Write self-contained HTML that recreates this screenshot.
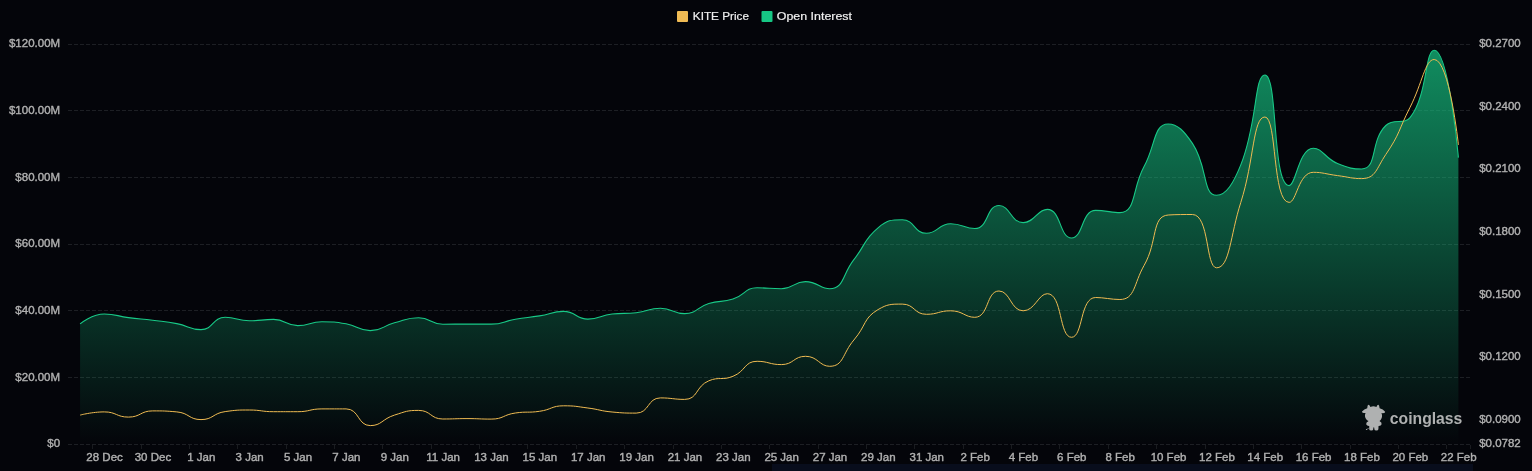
<!DOCTYPE html>
<html lang="en"><head><meta charset="utf-8"><title>KITE Open Interest</title>
<style>html,body{margin:0;padding:0;background:#04050a;overflow:hidden}body{width:1532px;height:471px}svg{display:block}text{font-family:'Liberation Sans', sans-serif}</style></head><body>
<svg width="1532" height="471" viewBox="0 0 1532 471">
<defs><linearGradient id="ga" gradientUnits="userSpaceOnUse" x1="0" y1="50.2" x2="0" y2="444.0"><stop offset="0" stop-color="#16c784" stop-opacity="0.7"/><stop offset="1" stop-color="#16c784" stop-opacity="0"/></linearGradient></defs>
<rect width="1532" height="471" fill="#04050a"/>
<rect x="772" y="464" width="701" height="7" fill="#080d1c"/>
<g stroke="#1d1f24" stroke-width="1" stroke-dasharray="4 2" fill="none"><line x1="68.0" y1="44.5" x2="1470.5" y2="44.5"/><line x1="68.0" y1="110.5" x2="1470.5" y2="110.5"/><line x1="68.0" y1="177.5" x2="1470.5" y2="177.5"/><line x1="68.0" y1="244.5" x2="1470.5" y2="244.5"/><line x1="68.0" y1="310.5" x2="1470.5" y2="310.5"/><line x1="68.0" y1="377.5" x2="1470.5" y2="377.5"/><line x1="68.0" y1="444.5" x2="1470.5" y2="444.5"/></g>
<g stroke="#191b1f" stroke-width="1"><line x1="92.50" y1="445" x2="92.50" y2="449"/><line x1="141.50" y1="445" x2="141.50" y2="449"/><line x1="189.50" y1="445" x2="189.50" y2="449"/><line x1="237.50" y1="445" x2="237.50" y2="449"/><line x1="286.50" y1="445" x2="286.50" y2="449"/><line x1="334.50" y1="445" x2="334.50" y2="449"/><line x1="382.50" y1="445" x2="382.50" y2="449"/><line x1="431.50" y1="445" x2="431.50" y2="449"/><line x1="479.50" y1="445" x2="479.50" y2="449"/><line x1="527.50" y1="445" x2="527.50" y2="449"/><line x1="576.50" y1="445" x2="576.50" y2="449"/><line x1="624.50" y1="445" x2="624.50" y2="449"/><line x1="673.50" y1="445" x2="673.50" y2="449"/><line x1="721.50" y1="445" x2="721.50" y2="449"/><line x1="769.50" y1="445" x2="769.50" y2="449"/><line x1="818.50" y1="445" x2="818.50" y2="449"/><line x1="866.50" y1="445" x2="866.50" y2="449"/><line x1="914.50" y1="445" x2="914.50" y2="449"/><line x1="963.50" y1="445" x2="963.50" y2="449"/><line x1="1011.50" y1="445" x2="1011.50" y2="449"/><line x1="1059.50" y1="445" x2="1059.50" y2="449"/><line x1="1108.50" y1="445" x2="1108.50" y2="449"/><line x1="1156.50" y1="445" x2="1156.50" y2="449"/><line x1="1205.50" y1="445" x2="1205.50" y2="449"/><line x1="1253.50" y1="445" x2="1253.50" y2="449"/><line x1="1301.50" y1="445" x2="1301.50" y2="449"/><line x1="1350.50" y1="445" x2="1350.50" y2="449"/><line x1="1398.50" y1="445" x2="1398.50" y2="449"/><line x1="1446.50" y1="445" x2="1446.50" y2="449"/><line x1="1470.50" y1="445" x2="1470.50" y2="449"/></g>
<path d="M80.09 323.80 C80.09 323.80 91.79 314.00 104.27 314.00 C115.97 314.00 116.33 316.02 128.45 317.60 C140.51 319.17 140.56 318.80 152.63 320.30 C164.74 321.80 164.85 321.30 176.81 323.60 C189.03 325.95 189.42 329.60 201.00 329.60 C213.60 329.60 212.45 317.30 225.18 317.30 C236.63 317.30 237.21 320.80 249.36 320.80 C261.40 320.80 261.63 319.40 273.54 319.40 C285.81 319.40 285.51 325.60 297.72 325.60 C309.70 325.60 309.76 321.70 321.90 321.70 C333.94 321.70 334.20 321.70 346.08 323.80 C358.38 325.97 358.24 330.60 370.26 330.60 C382.42 330.60 382.19 326.07 394.44 322.80 C406.37 319.62 406.61 317.70 418.62 317.70 C430.79 317.70 430.50 324.20 442.81 324.20 C454.69 324.20 454.90 324.10 466.99 324.10 C479.08 324.10 479.20 324.10 491.17 324.10 C503.38 324.10 503.19 321.26 515.35 319.20 C527.37 317.16 527.49 317.84 539.53 315.90 C551.67 313.94 551.81 311.40 563.71 311.40 C575.99 311.40 575.64 319.10 587.89 319.10 C599.82 319.10 599.86 315.33 612.07 314.00 C624.04 312.70 624.26 314.00 636.25 312.70 C648.44 311.38 648.39 308.20 660.44 308.20 C672.57 308.20 672.86 313.60 684.62 313.60 C697.05 313.60 696.32 307.24 708.80 303.50 C720.50 299.99 721.39 302.86 732.98 299.10 C745.57 295.01 744.48 287.80 757.16 287.80 C768.66 287.80 769.50 288.70 781.34 288.70 C793.68 288.70 793.43 281.60 805.52 281.60 C817.61 281.60 820.04 288.70 829.70 288.70 C844.22 288.70 842.12 274.41 853.88 259.60 C866.30 243.96 863.31 239.98 878.06 227.80 C887.49 220.03 890.66 219.70 902.25 219.70 C914.85 219.70 913.94 233.30 926.43 233.30 C938.12 233.30 938.20 223.80 950.61 223.80 C962.38 223.80 964.52 228.50 974.79 228.50 C988.70 228.50 986.16 205.50 998.97 205.50 C1010.34 205.50 1010.62 222.60 1023.15 222.60 C1034.80 222.60 1037.08 209.40 1047.33 209.40 C1061.26 209.40 1059.30 238.00 1071.51 238.00 C1083.48 238.00 1081.14 210.40 1095.69 210.40 C1105.32 210.40 1112.17 212.60 1119.88 212.60 C1136.36 212.60 1131.61 189.40 1144.06 166.60 C1155.79 145.10 1153.43 124.00 1168.24 124.00 C1177.61 124.00 1183.92 130.88 1192.42 143.40 C1208.11 166.53 1202.19 195.30 1216.60 195.30 C1226.37 195.30 1233.66 182.61 1240.78 164.90 C1257.84 122.46 1254.05 75.00 1264.96 75.00 C1278.23 75.00 1271.78 185.60 1289.14 185.60 C1295.96 185.60 1298.61 148.30 1313.32 148.30 C1322.79 148.30 1324.54 158.05 1337.50 163.60 C1348.73 168.40 1353.65 169.00 1361.69 169.00 C1377.83 169.00 1369.86 140.96 1385.87 125.50 C1394.05 117.60 1403.71 125.50 1410.05 117.60 C1427.89 95.36 1424.70 50.20 1434.23 50.20 C1448.88 50.20 1458.41 157.60 1458.41 157.60 L1458.41 444.00 L80.09 444.00 Z" fill="url(#ga)" stroke="none"/>
<path d="M80.09 323.80 C80.09 323.80 91.79 314.00 104.27 314.00 C115.97 314.00 116.33 316.02 128.45 317.60 C140.51 319.17 140.56 318.80 152.63 320.30 C164.74 321.80 164.85 321.30 176.81 323.60 C189.03 325.95 189.42 329.60 201.00 329.60 C213.60 329.60 212.45 317.30 225.18 317.30 C236.63 317.30 237.21 320.80 249.36 320.80 C261.40 320.80 261.63 319.40 273.54 319.40 C285.81 319.40 285.51 325.60 297.72 325.60 C309.70 325.60 309.76 321.70 321.90 321.70 C333.94 321.70 334.20 321.70 346.08 323.80 C358.38 325.97 358.24 330.60 370.26 330.60 C382.42 330.60 382.19 326.07 394.44 322.80 C406.37 319.62 406.61 317.70 418.62 317.70 C430.79 317.70 430.50 324.20 442.81 324.20 C454.69 324.20 454.90 324.10 466.99 324.10 C479.08 324.10 479.20 324.10 491.17 324.10 C503.38 324.10 503.19 321.26 515.35 319.20 C527.37 317.16 527.49 317.84 539.53 315.90 C551.67 313.94 551.81 311.40 563.71 311.40 C575.99 311.40 575.64 319.10 587.89 319.10 C599.82 319.10 599.86 315.33 612.07 314.00 C624.04 312.70 624.26 314.00 636.25 312.70 C648.44 311.38 648.39 308.20 660.44 308.20 C672.57 308.20 672.86 313.60 684.62 313.60 C697.05 313.60 696.32 307.24 708.80 303.50 C720.50 299.99 721.39 302.86 732.98 299.10 C745.57 295.01 744.48 287.80 757.16 287.80 C768.66 287.80 769.50 288.70 781.34 288.70 C793.68 288.70 793.43 281.60 805.52 281.60 C817.61 281.60 820.04 288.70 829.70 288.70 C844.22 288.70 842.12 274.41 853.88 259.60 C866.30 243.96 863.31 239.98 878.06 227.80 C887.49 220.03 890.66 219.70 902.25 219.70 C914.85 219.70 913.94 233.30 926.43 233.30 C938.12 233.30 938.20 223.80 950.61 223.80 C962.38 223.80 964.52 228.50 974.79 228.50 C988.70 228.50 986.16 205.50 998.97 205.50 C1010.34 205.50 1010.62 222.60 1023.15 222.60 C1034.80 222.60 1037.08 209.40 1047.33 209.40 C1061.26 209.40 1059.30 238.00 1071.51 238.00 C1083.48 238.00 1081.14 210.40 1095.69 210.40 C1105.32 210.40 1112.17 212.60 1119.88 212.60 C1136.36 212.60 1131.61 189.40 1144.06 166.60 C1155.79 145.10 1153.43 124.00 1168.24 124.00 C1177.61 124.00 1183.92 130.88 1192.42 143.40 C1208.11 166.53 1202.19 195.30 1216.60 195.30 C1226.37 195.30 1233.66 182.61 1240.78 164.90 C1257.84 122.46 1254.05 75.00 1264.96 75.00 C1278.23 75.00 1271.78 185.60 1289.14 185.60 C1295.96 185.60 1298.61 148.30 1313.32 148.30 C1322.79 148.30 1324.54 158.05 1337.50 163.60 C1348.73 168.40 1353.65 169.00 1361.69 169.00 C1377.83 169.00 1369.86 140.96 1385.87 125.50 C1394.05 117.60 1403.71 125.50 1410.05 117.60 C1427.89 95.36 1424.70 50.20 1434.23 50.20 C1448.88 50.20 1458.41 157.60 1458.41 157.60" fill="none" stroke="#18c987" stroke-width="1.1" stroke-linejoin="round"/>
<path d="M80.09 415.10 C80.09 415.10 92.27 411.90 104.27 411.90 C116.45 411.90 116.42 417.10 128.45 417.10 C140.60 417.10 140.36 410.90 152.63 410.90 C164.54 410.90 165.01 410.90 176.81 411.90 C189.19 412.95 188.93 419.60 201.00 419.60 C213.11 419.60 212.79 413.28 225.18 411.60 C236.97 410.00 237.27 410.00 249.36 410.00 C261.45 410.00 261.43 411.70 273.54 411.70 C285.61 411.70 285.67 411.70 297.72 411.70 C309.85 411.70 309.77 408.90 321.90 408.90 C333.95 408.90 335.17 408.90 346.08 408.90 C359.35 408.90 357.52 425.60 370.26 425.60 C381.70 425.60 381.94 419.03 394.44 415.10 C406.12 411.43 406.78 410.40 418.62 410.40 C430.96 410.40 430.36 419.00 442.81 419.00 C454.54 419.00 454.90 418.60 466.99 418.60 C479.08 418.60 479.26 419.10 491.17 419.10 C503.44 419.10 503.09 414.75 515.35 413.00 C527.27 411.30 527.58 413.00 539.53 411.30 C551.76 409.56 551.49 405.80 563.71 405.80 C575.67 405.80 575.86 406.46 587.89 408.00 C600.04 409.56 599.91 410.89 612.07 412.00 C624.09 413.10 625.16 413.10 636.25 413.10 C649.34 413.10 647.35 397.90 660.44 397.90 C671.53 397.90 673.91 399.40 684.62 399.40 C698.09 399.40 695.41 386.38 708.80 380.80 C719.59 376.30 721.77 380.80 732.98 376.30 C745.95 371.09 744.14 361.30 757.16 361.30 C768.32 361.30 769.53 364.60 781.34 364.60 C793.71 364.60 793.57 356.30 805.52 356.30 C817.75 356.30 819.48 366.30 829.70 366.30 C843.66 366.30 842.30 353.58 853.88 340.00 C866.48 325.23 863.31 318.22 878.06 309.60 C887.49 304.10 890.50 304.10 902.25 304.10 C914.68 304.10 913.90 314.30 926.43 314.30 C938.09 314.30 938.67 310.80 950.61 310.80 C962.85 310.80 964.82 317.30 974.79 317.30 C989.01 317.30 986.07 291.00 998.97 291.00 C1010.25 291.00 1010.74 310.80 1023.15 310.80 C1034.92 310.80 1038.32 293.70 1047.33 293.70 C1062.50 293.70 1059.01 337.30 1071.51 337.30 C1083.19 337.30 1079.80 297.50 1095.69 297.50 C1103.98 297.50 1110.98 299.50 1119.88 299.50 C1135.16 299.50 1133.73 283.54 1144.06 265.50 C1157.91 241.29 1151.35 216.16 1168.24 215.00 C1175.53 214.50 1185.35 214.50 1192.42 214.50 C1209.53 214.50 1205.56 267.80 1216.60 267.80 C1229.74 267.80 1230.16 235.63 1240.78 202.50 C1254.34 160.23 1252.86 117.00 1264.96 117.00 C1277.05 117.00 1272.29 202.40 1289.14 202.40 C1296.47 202.40 1298.51 172.30 1313.32 172.30 C1322.69 172.30 1325.40 174.02 1337.50 175.60 C1349.59 177.17 1351.63 178.60 1361.69 178.60 C1375.81 178.60 1376.37 168.39 1385.87 154.40 C1400.56 132.74 1398.03 130.89 1410.05 107.30 C1422.21 83.44 1425.12 59.50 1434.23 59.50 C1449.30 59.50 1458.41 144.80 1458.41 144.80" fill="none" stroke="#efbb52" stroke-opacity="1" stroke-width="1" stroke-linejoin="round"/>
<g font-size="11.8" fill="#b0b0b0" stroke="#b0b0b0" stroke-width="0.4"><text transform="translate(60.1 47.3) scale(0.975 1)" text-anchor="end">$120.00M</text><text transform="translate(60.1 114.0) scale(0.975 1)" text-anchor="end">$100.00M</text><text transform="translate(60.1 180.6) scale(0.975 1)" text-anchor="end">$80.00M</text><text transform="translate(60.1 247.3) scale(0.975 1)" text-anchor="end">$60.00M</text><text transform="translate(60.1 314.0) scale(0.975 1)" text-anchor="end">$40.00M</text><text transform="translate(60.1 380.6) scale(0.975 1)" text-anchor="end">$20.00M</text><text transform="translate(60.1 447.3) scale(0.975 1)" text-anchor="end">$0</text></g>
<g font-size="11.8" fill="#b0b0b0" stroke="#b0b0b0" stroke-width="0.4"><text transform="translate(1479.2 47.3) scale(0.975 1)">$0.2700</text><text transform="translate(1479.2 109.9) scale(0.975 1)">$0.2400</text><text transform="translate(1479.2 172.4) scale(0.975 1)">$0.2100</text><text transform="translate(1479.2 235.0) scale(0.975 1)">$0.1800</text><text transform="translate(1479.2 297.6) scale(0.975 1)">$0.1500</text><text transform="translate(1479.2 360.1) scale(0.975 1)">$0.1200</text><text transform="translate(1479.2 422.7) scale(0.975 1)">$0.0900</text><text transform="translate(1479.2 447.3) scale(0.975 1)">$0.0782</text></g>
<g font-size="11.8" fill="#b0b0b0" stroke="#b0b0b0" stroke-width="0.4" text-anchor="middle"><text transform="translate(104.57 461.2) scale(0.975 1)">28 Dec</text><text transform="translate(152.93 461.2) scale(0.975 1)">30 Dec</text><text transform="translate(201.30 461.2) scale(0.975 1)">1 Jan</text><text transform="translate(249.66 461.2) scale(0.975 1)">3 Jan</text><text transform="translate(298.02 461.2) scale(0.975 1)">5 Jan</text><text transform="translate(346.38 461.2) scale(0.975 1)">7 Jan</text><text transform="translate(394.74 461.2) scale(0.975 1)">9 Jan</text><text transform="translate(443.11 461.2) scale(0.975 1)">11 Jan</text><text transform="translate(491.47 461.2) scale(0.975 1)">13 Jan</text><text transform="translate(539.83 461.2) scale(0.975 1)">15 Jan</text><text transform="translate(588.19 461.2) scale(0.975 1)">17 Jan</text><text transform="translate(636.55 461.2) scale(0.975 1)">19 Jan</text><text transform="translate(684.92 461.2) scale(0.975 1)">21 Jan</text><text transform="translate(733.28 461.2) scale(0.975 1)">23 Jan</text><text transform="translate(781.64 461.2) scale(0.975 1)">25 Jan</text><text transform="translate(830.00 461.2) scale(0.975 1)">27 Jan</text><text transform="translate(878.36 461.2) scale(0.975 1)">29 Jan</text><text transform="translate(926.73 461.2) scale(0.975 1)">31 Jan</text><text transform="translate(975.09 461.2) scale(0.975 1)">2 Feb</text><text transform="translate(1023.45 461.2) scale(0.975 1)">4 Feb</text><text transform="translate(1071.81 461.2) scale(0.975 1)">6 Feb</text><text transform="translate(1120.17 461.2) scale(0.975 1)">8 Feb</text><text transform="translate(1168.54 461.2) scale(0.975 1)">10 Feb</text><text transform="translate(1216.90 461.2) scale(0.975 1)">12 Feb</text><text transform="translate(1265.26 461.2) scale(0.975 1)">14 Feb</text><text transform="translate(1313.62 461.2) scale(0.975 1)">16 Feb</text><text transform="translate(1361.99 461.2) scale(0.975 1)">18 Feb</text><text transform="translate(1410.35 461.2) scale(0.975 1)">20 Feb</text><text transform="translate(1458.71 461.2) scale(0.975 1)">22 Feb</text></g>
<rect x="677" y="11" width="11" height="11" rx="1" fill="#f0bb54"/>
<text x="692.8" y="20" font-size="11.7" fill="#efefef" stroke="#efefef" stroke-width="0.2" textLength="56.2" lengthAdjust="spacingAndGlyphs">KITE Price</text>
<rect x="761.5" y="11" width="11" height="11" rx="1" fill="#16c784"/>
<text x="776.8" y="20" font-size="11.7" fill="#efefef" stroke="#efefef" stroke-width="0.2" textLength="75.2" lengthAdjust="spacingAndGlyphs">Open Interest</text>
<g fill="#afb1b1"><g transform="translate(1355 400) scale(0.07645)"><path d="M174 62 Q188 60 202 92 Q240 74 280 92 Q292 60 306 62 Q318 64 322 108 Q368 118 394 154 Q398 166 380 170 Q362 174 346 170 C366 215 346 260 320 274 Q354 290 348 318 Q340 342 308 340 L306 382 Q304 400 280 400 Q254 400 253 384 L252 362 Q246 354 240 362 L239 384 Q238 400 212 400 Q188 400 186 382 L186 340 Q156 342 146 318 Q142 290 178 274 C140 260 118 215 138 170 Q120 174 104 168 Q86 164 92 152 Q120 116 160 108 Q162 64 174 62 Z"/><path d="M180 368 Q170 384 150 386" fill="none" stroke="#afb1b1" stroke-width="8" stroke-linecap="round"/><circle cx="149" cy="386" r="7"/></g><text transform="translate(1389.8 423.7) scale(0.905 1)" font-size="17.4" font-weight="bold">coinglass</text></g>

</svg></body></html>
